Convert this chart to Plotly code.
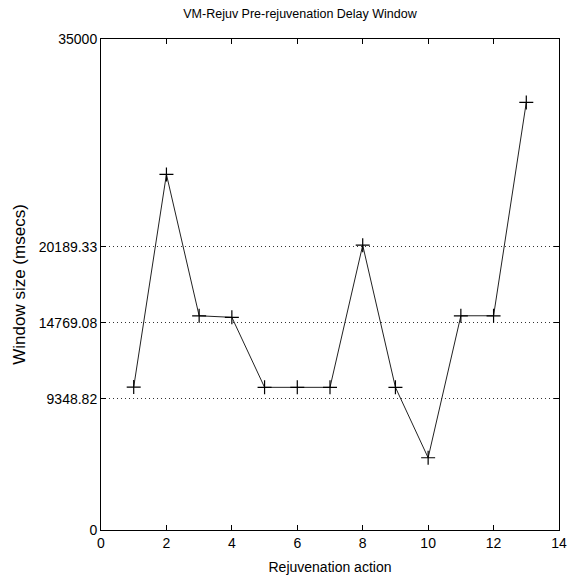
import plotly.graph_objects as go

# rejuvenation actions and measured window sizes (msecs)
actions = [1, 2, 3, 4, 5, 6, 7, 8, 9, 10, 11, 12, 13]
window = [10190, 25350, 15270, 15160, 10170, 10170, 10170, 20300, 10170, 5150, 15270, 15270, 30480]

y_ticks = [0, 9348.82, 14769.08, 20189.33, 35000]
y_tick_text = ["0", "9348.82", "14769.08", "20189.33", "35000"]
x_ticks = [0, 2, 4, 6, 8, 10, 12, 14]

font_family = "Liberation Sans, Arial"

fig = go.Figure()
fig.add_trace(
    go.Scatter(
        x=actions,
        y=window,
        mode="lines+markers",
        line=dict(color="#222222", width=1),
        marker=dict(symbol="cross-thin", size=10, line=dict(color="black", width=1.2)),
        showlegend=False,
    )
)

fig.update_layout(
    width=570,
    height=581,
    paper_bgcolor="white",
    plot_bgcolor="white",
    margin=dict(l=101, r=11, t=39, b=51),
    font=dict(family=font_family, size=14, color="black"),
    title=dict(
        text="VM-Rejuv Pre-rejuvenation Delay Window",
        x=300 / 570,
        xanchor="center",
        y=1 - 14 / 581,
        yanchor="middle",
        font=dict(size=12.5),
    ),
)

fig.update_xaxes(
    range=[0, 14],
    tickvals=x_ticks,
    ticks="inside",
    ticklen=5,
    tickcolor="black",
    showline=True,
    linecolor="black",
    linewidth=1,
    mirror="ticks",
    showgrid=False,
    zeroline=False,
    automargin=False,
    title=dict(text="Rejuvenation action", standoff=12, font=dict(size=14)),
)

fig.update_yaxes(
    range=[0, 35000],
    tickvals=y_ticks,
    ticktext=y_tick_text,
    ticks="inside",
    ticklen=5,
    tickcolor="black",
    showline=True,
    linecolor="black",
    linewidth=1,
    mirror="ticks",
    showgrid=True,
    gridcolor="#333333",
    griddash="1px,3px",
    gridwidth=1,
    zeroline=False,
    automargin=False,
    title=dict(text="Window size (msecs)", standoff=8, font=dict(size=17)),
)

fig.write_html(
    "out.html",
    config={"displayModeBar": False},
    post_script="document.body.style.margin='0';",
)
